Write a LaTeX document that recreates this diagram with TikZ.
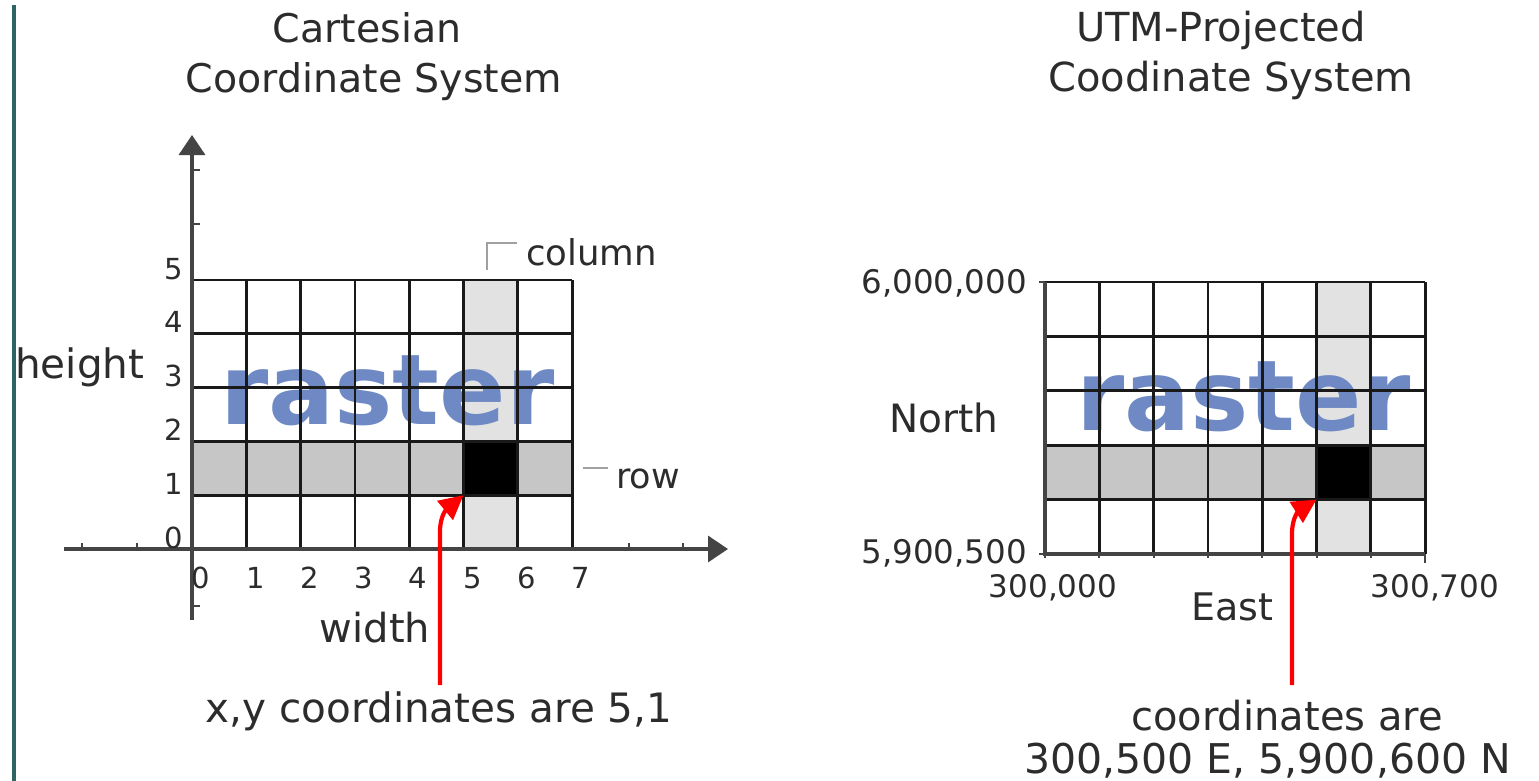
\documentclass[tikz,border=0pt]{standalone}
\usepackage{fontspec}
\setmainfont{DejaVu Sans}
\usetikzlibrary{arrows.meta}
\definecolor{tealbar}{HTML}{2F6464}
\definecolor{rowgray}{HTML}{C6C6C6}
\definecolor{colgray}{HTML}{E2E2E2}
\definecolor{rasterblue}{HTML}{6E89C3}
\definecolor{axisgray}{HTML}{444444}
\definecolor{txt}{HTML}{2C2C2C}
\definecolor{markgray}{HTML}{A0A0A0}
\newcommand{\fs}[1]{\fontsize{#1}{#1}\selectfont}
\tikzset{
  lbl/.style={inner sep=0pt, text=txt},
  title/.style={lbl, font=\fs{39.5}, anchor=base},
  big/.style={lbl, font=\fs{39}},
  num/.style={lbl, font=\fs{29}},
  utmnum/.style={lbl, font=\fs{32.5}},
  marklbl/.style={lbl, font=\fs{35.5}, anchor=base west},
  rasterlbl/.style={inner sep=0pt, text=rasterblue, font=\bfseries\fs{98}, anchor=base west},
  gridline/.style={line width=2.8pt, draw=black!90},
  axisline/.style={line width=3.4pt, draw=axisgray},
  axisarrow/.style={axisline, -{Triangle[length=20pt,width=26pt]}},
  tickline/.style={line width=2pt, draw=axisgray},
  markline/.style={line width=1.6pt, draw=markgray},
  redarrow/.style={line width=4.2pt, draw=red, -{Triangle[length=24pt,width=24pt]}},
}
\begin{document}
\begin{tikzpicture}[x=1pt,y=-1pt]
\useasboundingbox (0,0) rectangle (1539,781);
\fill[white] (0,0) rectangle (1539,781);
% left bar
\draw[line width=4pt, draw=tealbar] (13.5,5) -- (13.5,781);

% ================= LEFT: Cartesian =================
\def\cw{54.3}
\def\rh{53.8}
% fills
\fill[colgray] (192+5*\cw,280) rectangle (192+6*\cw,549);
\fill[rowgray] (192,549-2*\rh) rectangle (192+7*\cw,549-\rh);
\fill[black] (192+5*\cw,549-2*\rh) rectangle (192+6*\cw,549-\rh);
% raster text
\node[rasterlbl] (rasL) at (220,424) {raster};
% grid
\foreach \i in {1,...,7} \draw[gridline] (192+\i*\cw,280) -- (192+\i*\cw,549);
\foreach \j in {1,...,5} \draw[gridline] (192,549-\j*\rh) -- (192+7*\cw,549-\j*\rh);
% axes
\coordinate (xs) at (64,549);
\coordinate (xe) at (728,549);
\coordinate (ys) at (192,620);
\coordinate (ye) at (192,135);
\draw[axisarrow] (xs) -- (xe);
\draw[axisarrow] (ys) -- (ye);
% ticks
\foreach \x in {82,137,629,683} \draw[tickline] (\x,549) -- (\x,543);
\foreach \y in {170,224,606} \draw[tickline] (192,\y) -- (200,\y);
% y labels
\foreach \i in {0,...,5} \node[num, anchor=base east] (yl\i) at (183,548-\i*\rh) {\i};
% x labels
\foreach \i in {0,...,7} \node[num, anchor=base] (xl\i) at (201+\i*\cw,588) {\i};
% titles
\node[title] (t1) at (367,43) {Cartesian};
\node[title] (t2) at (374,93) {Coordinate System};
% axis names
\node[big, font=\fs{40.5}, anchor=base west] (hgt) at (15,378) {height};
\node[big, font=\fs{40}, anchor=base] (wid) at (375,642) {width};
% column / row markers
\coordinate (cb1) at (487,270);
\coordinate (cb2) at (487,243);
\coordinate (cb3) at (517,243);
\draw[markline] (cb1) -- (cb2) -- (cb3);
\node[marklbl] (colL) at (526,265) {column};
\coordinate (rm1) at (583,468);
\coordinate (rm2) at (608,468);
\draw[markline] (rm1) -- (rm2);
\node[marklbl, font=\fs{35}] (rowL) at (616,488) {row};
% annotation
\node[big, font=\fs{40.5}, anchor=base] (xy) at (439,722) {x,y coordinates are 5,1};
\coordinate (aL) at (440,685);
\coordinate (cellL) at (192+5*\cw,549-\rh);
\draw[redarrow] (aL) -- (440,532) .. controls (440,514) and (448,508) .. (cellL);

% ================= RIGHT: UTM =================
\def\rx{1045}
\def\rt{282}
\def\rb{554}
\def\rrh{54.4}
\fill[colgray] (\rx+5*\cw,\rt) rectangle (\rx+6*\cw,\rb);
\fill[rowgray] (\rx,\rb-2*\rrh) rectangle (\rx+7*\cw,\rb-\rrh);
\fill[black] (\rx+5*\cw,\rb-2*\rrh) rectangle (\rx+6*\cw,\rb-\rrh);
\node[rasterlbl] (rasR) at (1076,430) {raster};
\foreach \i in {1,...,7} \draw[gridline] (\rx+\i*\cw,\rt) -- (\rx+\i*\cw,\rb);
\foreach \j in {1,...,5} \draw[gridline] (\rx,\rb-\j*\rrh) -- (\rx+7*\cw,\rb-\j*\rrh);
\draw[axisline] (\rx,\rt) -- (\rx,\rb) -- (\rx+7*\cw,\rb);
% ticks
\draw[tickline] (1039,\rt) -- (\rx,\rt);
\draw[tickline] (1039,\rb) -- (\rx,\rb);
\foreach \i in {0,...,6} \draw[tickline] (\rx+\i*\cw,\rb) -- (\rx+\i*\cw,\rb+4);
\draw[tickline] (\rx+7*\cw,\rb) -- (\rx+7*\cw,\rb+9);
% titles
\node[title, font=\fs{40}] (t3) at (1221,42) {UTM-Projected};
\node[title, font=\fs{40}] (t4) at (1231,92) {Coodinate System};
% labels
\node[utmnum, anchor=base east] (n6) at (1027,293) {6,000,000};
\node[utmnum, anchor=base east] (n5) at (1027,563) {5,900,500};
\node[big, anchor=base] (north) at (944,432) {North};
\node[utmnum, font=\fs{31}, anchor=base] (e0) at (1053,597) {300,000};
\node[utmnum, font=\fs{31}, anchor=base] (e7) at (1435,597) {300,700};
\node[big, font=\fs{38}, anchor=base] (east) at (1232,620) {East};
\node[big, font=\fs{40}, anchor=base] (cr1) at (1287,730) {coordinates are};
\node[big, font=\fs{41}, anchor=base west] (cr2) at (1024,773) {300,500 E, 5,900,600 N};
\coordinate (aR) at (1292,685);
\coordinate (cellR) at (\rx+5*\cw,\rb-\rrh);
\draw[redarrow] (aR) -- (1292,534) .. controls (1292,516) and (1300,510) .. (cellR);
\end{tikzpicture}
\end{document}
